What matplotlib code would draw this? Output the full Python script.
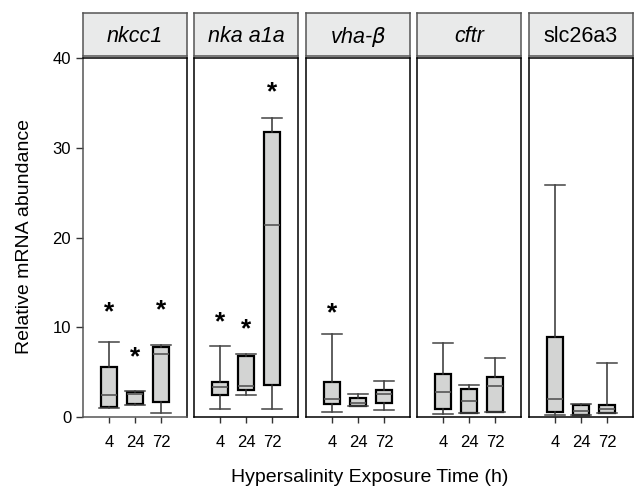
import numpy as np
import matplotlib.pyplot as plt

plt.rcParams['font.family'] = ['Liberation Sans', 'DejaVu Sans']

genes = ['nkcc1', 'nka a1a', r'vha-$\beta$', 'cftr', 'slc26a3']
italic = [True, True, True, True, False]
times = ['4', '24', '72']

# per gene: [whislo, q1, med, q3, whishi] for 4, 24, 72 h
nkcc1 = [[1.05, 1.15, 2.4, 5.6, 8.4], [1.3, 1.4, 2.55, 2.8, 2.9], [0.48, 1.63, 7.07, 7.85, 8.07]]
nka = [[0.9, 2.45, 3.35, 3.95, 7.9], [2.4, 3.0, 3.4, 6.77, 7.07], [0.93, 3.57, 21.4, 31.8, 33.3]]
vha = [[0.53, 1.45, 2.05, 3.95, 9.26], [1.2, 1.27, 1.52, 2.12, 2.53], [0.82, 1.52, 2.57, 3.0, 4.05]]
cftr = [[0.37, 0.9, 2.75, 4.84, 8.2], [0.4, 0.45, 1.78, 3.12, 3.57], [0.55, 0.6, 3.5, 4.5, 6.6]]
slc = [[0.22, 0.6, 2.05, 8.93, 25.9], [0.2, 0.22, 0.7, 1.3, 1.42], [0.4, 0.45, 0.9, 1.37, 6.0]]
all_stats = [nkcc1, nka, vha, cftr, slc]

# significance stars (y position), None = no star
stars = [[12.2, 7.1, 12.4], [11.0, 10.3, 36.7], [12.1, None, None],
         [None, None, None], [None, None, None]]

fig = plt.figure(figsize=(6.38, 4.88), dpi=100)
W, H = 638.0, 488.0
lefts = [83, 194, 306, 417, 529]
pw = 104
bot, top = 417, 58
s_bot, s_top = 56, 13

for i in range(5):
    ax = fig.add_axes([lefts[i] / W, 1 - bot / H, pw / W, (bot - top) / H])
    stats = []
    for s in all_stats[i]:
        stats.append(dict(whislo=s[0], q1=s[1], med=s[2], q3=s[3], whishi=s[4], fliers=[]))
    ax.bxp(stats, positions=[1, 2, 3], widths=0.58, patch_artist=True, showfliers=False,
           boxprops=dict(facecolor='#d3d4d3', edgecolor='black', linewidth=1.6),
           medianprops=dict(color='#555555', linewidth=1.2),
           whiskerprops=dict(color='#333333', linewidth=1.1),
           capprops=dict(color='#444444', linewidth=1.1), capwidths=0.78)
    for j, sy in enumerate(stars[i]):
        if sy is not None:
            ax.text(j + 1, sy - 0.5, '*', ha='center', va='center', fontsize=19,
                    fontweight='bold', color='black')
    ax.set_xlim(0, 4)
    ax.set_ylim(0, 40)
    ax.set_xticks([1, 2, 3])
    ax.set_xticklabels(times, fontsize=12)
    ax.tick_params(axis='x', direction='out', length=4, width=1, color='#333333', pad=9)
    for sp in ax.spines.values():
        sp.set_linewidth(1.1)
    if i == 0:
        ax.set_yticks([0, 10, 20, 30, 40])
        ax.set_yticklabels(['0', '10', '20', '30', '40'], fontsize=12)
        ax.tick_params(axis='y', direction='out', length=5, width=1, color='#333333')
        ax.spines['left'].set_color('#555555')
        ax.spines['bottom'].set_color('#555555')
    else:
        ax.set_yticks([])

    sax = fig.add_axes([lefts[i] / W, 1 - s_bot / H, pw / W, (s_bot - s_top) / H])
    sax.set_facecolor('#e9eaea')
    sax.set_xticks([])
    sax.set_yticks([])
    for sp in sax.spines.values():
        sp.set_color('#555555')
        sp.set_linewidth(1.1)
    sax.text(0.5, 0.45, genes[i], ha='center', va='center', fontsize=15.5,
             style='italic' if italic[i] else 'normal', transform=sax.transAxes)

fig.text(25 / W, 1 - 237 / H, 'Relative mRNA abundance', rotation=90, ha='center', va='center', fontsize=14)
fig.text(370 / W, 1 - 478 / H, 'Hypersalinity Exposure Time (h)', ha='center', va='center', fontsize=14)

fig.savefig('out.png', dpi=100)
